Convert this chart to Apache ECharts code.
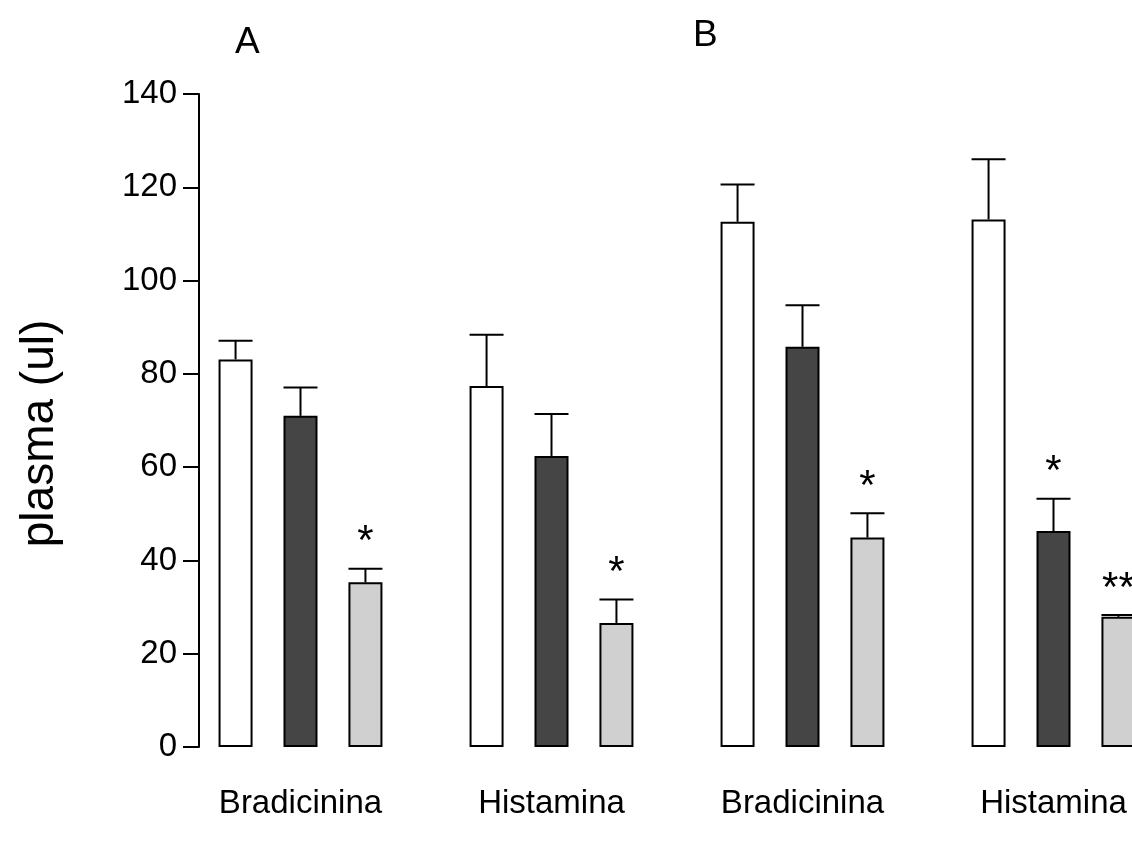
<!DOCTYPE html>
<html>
<head>
<meta charset="utf-8">
<script src="https://cdn.jsdelivr.net/npm/echarts@6/dist/echarts.min.js"></script>
<style>
  html, body { margin: 0; padding: 0; background: #fff; }
  #chart { width: 1132px; height: 842px; }
</style>
</head>
<body>
<div id="chart"></div>
<script>
// ---- data ----
const categories = ['Bradicinina', 'Histamina', 'Bradicinina', 'Histamina'];
const yTicks = [0, 20, 40, 60, 80, 100, 120, 140];
const whiteValues = [83.1, 77.4, 112.6, 113.1];
const whiteErrors = [4.0, 11.0, 8.0, 12.9];
const darkValues = [71.0, 62.4, 85.8, 46.3];
const darkErrors = [6.1, 9.0, 8.9, 6.9];
const lightValues = [35.3, 26.6, 44.9, 27.9];
const lightErrors = [2.9, 5.0, 5.2, 0.4];
const darkStars = ['', '', '', '*'];
const lightStars = ['*', '*', '*', '**'];
const whiteStars = ['', '', '', ''];
const panelLabels = ['A', 'B'];

const FONT = "'Liberation Sans', Arial, Helvetica, sans-serif";
const BAR_W = 34;
const GAP = 0.91;

const chart = echarts.init(document.getElementById('chart'), null, { renderer: 'canvas' });

function errSeries(values, errors, stars, pos) {
  return {
    type: 'custom',
    z: 5,
    data: values.map((v, i) => [i, v, errors[i]]),
    renderItem: function (params, api) {
      const idx = api.value(0);
      const v = api.value(1);
      const e = api.value(2);
      const star = stars[params.dataIndex];
      const off = pos * BAR_W * (1 + GAP);
      const base = api.coord([idx, v]);
      const top = api.coord([idx, v + e]);
      const x = base[0] + off;
      const children = [
        { type: 'line', shape: { x1: x, y1: base[1], x2: x, y2: top[1] },
          style: { stroke: '#000', lineWidth: 2 } },
        { type: 'line', shape: { x1: x - BAR_W / 2, y1: top[1], x2: x + BAR_W / 2, y2: top[1] },
          style: { stroke: '#000', lineWidth: 2 } }
      ];
      if (star) {
        children.push({
          type: 'text',
          style: { text: star, x: x, y: top[1] - 26, align: 'center', verticalAlign: 'middle',
                   font: '42px ' + FONT, fill: '#000' }
        });
      }
      return { type: 'group', children: children };
    }
  };
}

const option = {
  backgroundColor: '#fff',
  animation: false,
  textStyle: { fontFamily: FONT },
  title: [
    { text: panelLabels[0], left: 230, top: 19, textStyle: { fontFamily: FONT, fontSize: 37, fontWeight: 'normal', color: '#000' } },
    { text: panelLabels[1], left: 688, top: 12, textStyle: { fontFamily: FONT, fontSize: 37, fontWeight: 'normal', color: '#000' } }
  ],
  grid: { left: 175, top: 94, width: 1004, height: 653, containLabel: false, outerBoundsMode: 'none' },
  xAxis: {
    type: 'category',
    data: categories,
    axisLine: { show: false },
    axisTick: { show: false },
    axisLabel: { color: '#000', fontSize: 33, fontFamily: FONT, margin: 40, interval: 0 }
  },
  yAxis: {
    type: 'value',
    min: yTicks[0],
    max: yTicks[yTicks.length - 1],
    interval: 20,
    offset: -24,
    name: 'plasma (ul)',
    nameLocation: 'middle',
    nameGap: 136,
    nameRotate: 90,
    nameTextStyle: { color: '#000', fontSize: 46, fontFamily: FONT, padding: [0, 26, 0, 0] },
    axisLine: { show: true, lineStyle: { color: '#000', width: 2 } },
    axisTick: { show: true, length: 16, lineStyle: { color: '#000', width: 2 } },
    axisLabel: { color: '#000', fontSize: 33, fontFamily: FONT, margin: 22 },
    splitLine: { show: false }
  },
  series: [
    { type: 'bar', data: whiteValues, barWidth: BAR_W, barGap: (GAP * 100) + '%',
      itemStyle: { color: '#ffffff', borderColor: '#000', borderWidth: 2 } },
    { type: 'bar', data: darkValues, barWidth: BAR_W, barGap: (GAP * 100) + '%',
      itemStyle: { color: '#454545', borderColor: '#000', borderWidth: 2 } },
    { type: 'bar', data: lightValues, barWidth: BAR_W, barGap: (GAP * 100) + '%',
      itemStyle: { color: '#d0d0d0', borderColor: '#000', borderWidth: 2 } },
    errSeries(whiteValues, whiteErrors, whiteStars, -1),
    errSeries(darkValues, darkErrors, darkStars, 0),
    errSeries(lightValues, lightErrors, lightStars, 1)
  ]
};

chart.setOption(option);
</script>
</body>
</html>
